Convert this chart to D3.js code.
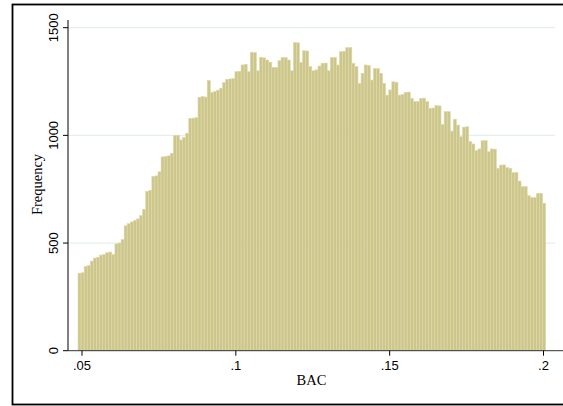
<!DOCTYPE html>
<html>
<head>
<meta charset="utf-8">
<script src="https://cdn.jsdelivr.net/npm/d3@7"></script>
<style>
  html, body { margin: 0; padding: 0; background: #fff; }
  svg { display: block; }
  .tick-label { font-family: "Liberation Sans", Arial, sans-serif; font-size: 13px; fill: #000; }
  .axis-title { font-family: "Liberation Serif", "Times New Roman", serif; font-size: 14.5px; fill: #000; }
</style>
</head>
<body>
<svg id="chart" width="563" height="406"></svg>
<script>
// BAC histogram, one bin per 0.001 starting at .049
const binStart = 0.0487;
const binWidth = 0.001;
const frequencies = [
  360, 362, 392, 395, 416, 430, 434, 444, 446, 455,
  458, 446, 496, 500, 517, 580, 590, 598, 605, 612,
  627, 657, 740, 745, 810, 812, 831, 900, 902, 905,
  917, 1000, 1000, 979, 991, 1010, 1079, 1080, 1082, 1177,
  1180, 1178, 1255, 1200, 1203, 1210, 1219, 1245, 1260, 1262,
  1265, 1296, 1298, 1327, 1330, 1296, 1386, 1384, 1300, 1363,
  1360, 1350, 1340, 1316, 1316, 1347, 1361, 1362, 1350, 1300,
  1432, 1430, 1339, 1393, 1392, 1320, 1300, 1304, 1322, 1335,
  1336, 1300, 1361, 1362, 1327, 1389, 1390, 1407, 1408, 1335,
  1320, 1242, 1288, 1327, 1325, 1257, 1311, 1310, 1288, 1242,
  1187, 1211, 1249, 1247, 1187, 1190, 1200, 1201, 1172, 1157,
  1158, 1172, 1173, 1157, 1126, 1127, 1138, 1137, 1051, 1110,
  1110, 1020, 1075, 1048, 994, 1038, 1040, 971, 960, 929,
  937, 975, 976, 924, 937, 936, 847, 862, 863, 850,
  847, 827, 828, 788, 762, 762, 720, 711, 711, 731,
  731, 685
];
const xTicks = [0.05, 0.1, 0.15, 0.2];
const xTickLabels = [".05", ".1", ".15", ".2"];
const yTicks = [0, 500, 1000, 1500];

const svg = d3.select("#chart");

// outer frame (right edge runs off the picture)
svg.append("rect")
  .attr("x", 12.5).attr("y", 4.5)
  .attr("width", 600).attr("height", 400)
  .attr("fill", "#fff")
  .attr("stroke", "#000")
  .attr("stroke-width", 1.8);

const x = d3.scaleLinear().domain([0.05, 0.2]).range([82, 543.5]);
const y = d3.scaleLinear().domain([0, 1500]).range([350.7, 27.7]);

const bins = frequencies.map((f, i) => ({
  x0: binStart + binWidth * i,
  x1: binStart + binWidth * (i + 1),
  f
}));

// gridlines
svg.append("g")
  .selectAll("line")
  .data(yTicks.filter(d => d > 0))
  .join("line")
  .attr("x1", 68).attr("x2", 555)
  .attr("y1", d => y(d)).attr("y2", d => y(d))
  .attr("stroke", "#e6eff0")
  .attr("stroke-width", 1.2);

// bars
svg.append("g")
  .selectAll("rect")
  .data(bins)
  .join("rect")
  .attr("x", d => x(d.x0))
  .attr("width", d => x(d.x1) - x(d.x0))
  .attr("y", d => y(d.f))
  .attr("height", d => y(0) - y(d.f))
  .attr("fill", "#cdc68b")
  .attr("stroke", "#dedaae")
  .attr("stroke-width", 0.6);

// y axis
const yAxis = svg.append("g").attr("transform", "translate(68,0)");
yAxis.append("line")
  .attr("x1", 0).attr("x2", 0)
  .attr("y1", 20).attr("y2", y(0))
  .attr("stroke", "#000");
yAxis.selectAll("line.tick")
  .data(yTicks)
  .join("line")
  .attr("class", "tick")
  .attr("x1", -5).attr("x2", 0)
  .attr("y1", d => y(d)).attr("y2", d => y(d))
  .attr("stroke", "#000");
yAxis.selectAll("text")
  .data(yTicks)
  .join("text")
  .attr("class", "tick-label")
  .attr("text-anchor", "middle")
  .attr("transform", d => `translate(-9.7,${y(d)}) rotate(-90)`)
  .text(d => d);

// x axis
const xAxis = svg.append("g").attr("transform", `translate(0,${y(0)})`);
xAxis.append("line")
  .attr("x1", 68).attr("x2", 563)
  .attr("stroke", "#333");
xAxis.selectAll("line.tick")
  .data(xTicks)
  .join("line")
  .attr("class", "tick")
  .attr("x1", d => x(d)).attr("x2", d => x(d))
  .attr("y1", 0).attr("y2", 5)
  .attr("stroke", "#000");
xAxis.selectAll("text")
  .data(xTicks)
  .join("text")
  .attr("class", "tick-label")
  .attr("text-anchor", "middle")
  .attr("x", d => x(d))
  .attr("y", 19.3)
  .text((d, i) => xTickLabels[i]);

// titles
svg.append("text")
  .attr("class", "axis-title")
  .attr("text-anchor", "middle")
  .attr("x", 311.5).attr("y", 385)
  .text("BAC");
svg.append("text")
  .attr("class", "axis-title")
  .attr("text-anchor", "middle")
  .attr("transform", "translate(42.3,184.5) rotate(-90)")
  .text("Frequency");
</script>
</body>
</html>
